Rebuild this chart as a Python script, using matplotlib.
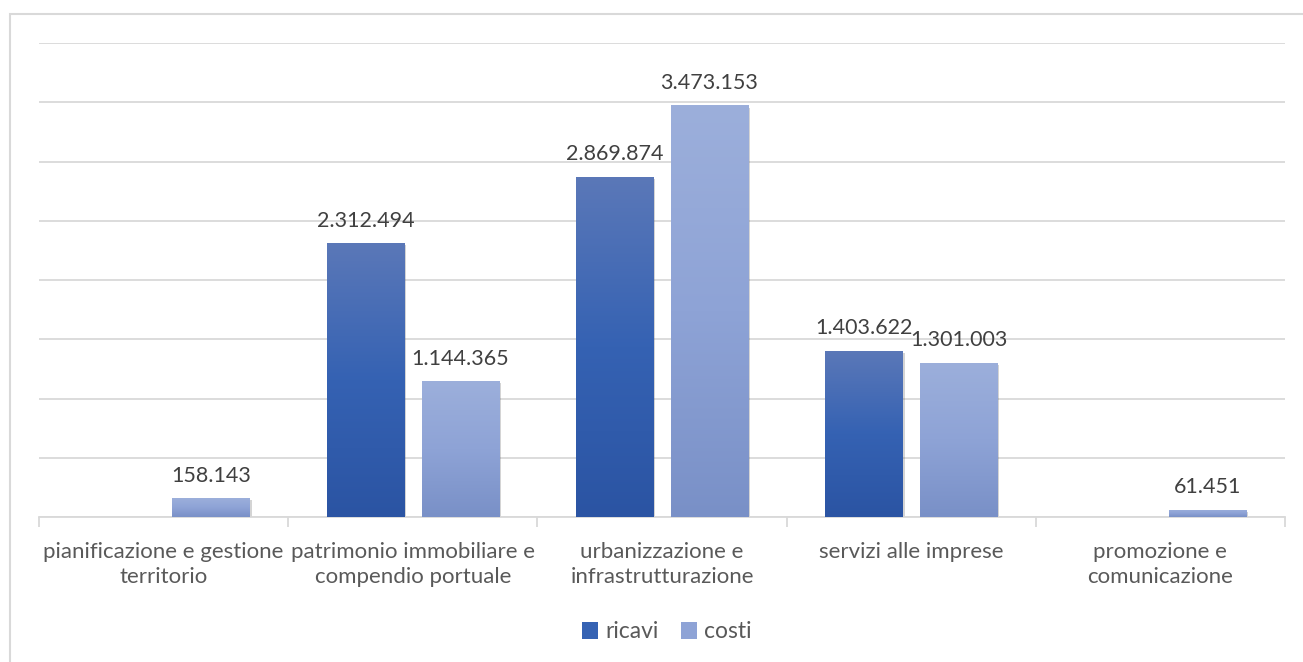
import numpy as np
import matplotlib
matplotlib.use("Agg")
import matplotlib.pyplot as plt
from matplotlib.patches import Rectangle, Patch
from matplotlib.colors import LinearSegmentedColormap
import matplotlib.patheffects as pe

categories = ["pianificazione e gestione\nterritorio",
              "patrimonio immobiliare e\ncompendio portuale",
              "urbanizzazione e\ninfrastrutturazione",
              "servizi alle imprese",
              "promozione e\ncomunicazione"]
ricavi = [0, 2312494, 2869874, 1403622, 0]
costi = [158143, 1144365, 3473153, 1301003, 61451]
series_names = ["ricavi", "costi"]

plt.rcParams['font.family'] = ['Lato', 'DejaVu Sans']

W, H = 1303, 662
fig = plt.figure(figsize=(W/100, H/100), dpi=100)
fig.patch.set_facecolor("white")

# outer frame (only top-left visible)
fig.add_artist(Rectangle((10/W, -0.1), 1.2, 1.1 - 14/H, transform=fig.transFigure,
                         fill=False, edgecolor="#d9d9d9", linewidth=1.5))

ax = fig.add_axes([39/W, 1-517/H, (1285-39)/W, (517-43)/H])
ax.set_xlim(-0.5, len(categories)-0.5)
ax.set_ylim(0, 4000000)

ax.set_yticks(np.arange(0, 4000001, 500000))
ax.yaxis.grid(True, color="#d9d9d9", linewidth=1.3)
ax.set_axisbelow(True)
ax.tick_params(axis='y', left=False, labelleft=False)
for s in ["top", "right", "left"]:
    ax.spines[s].set_visible(False)
ax.spines["bottom"].set_color("#d9d9d9")
ax.spines["bottom"].set_linewidth(1.3)

x = np.arange(len(categories))
ax.set_xticks(x)
ax.set_xticklabels(categories, fontsize=16, color="#595959", linespacing=1.33)
ax.tick_params(axis='x', length=0, pad=18)
ax.set_xticks(np.arange(-0.5, len(categories)), minor=True)
ax.tick_params(axis='x', which='minor', length=7, color="#d9d9d9", width=1.3)

off = 0.19
bw = 0.31

cm_r = LinearSegmentedColormap.from_list("r", ["#2b54a3", "#3562b3", "#5b78b8"])
cm_c = LinearSegmentedColormap.from_list("c", ["#7990c7", "#8ea3d6", "#9cafdb"])
grad = np.linspace(1, 0, 256).reshape(-1, 1)  # row 0 (top) = 1 -> top colour

def draw(vals, xs, cmap):
    for xi, v in zip(xs, vals):
        if v <= 0:
            continue
        r = Rectangle((xi - bw/2, 0), bw, v, facecolor=cmap(0.5), edgecolor="none", zorder=2,
                      path_effects=[pe.SimplePatchShadow(offset=(1.5, -1.5), alpha=0.25, shadow_rgbFace="#555555"), pe.Normal()])
        ax.add_patch(r)
        im = ax.imshow(grad, cmap=cmap, aspect='auto', extent=(xi - bw/2, xi + bw/2, 0, v),
                       origin='upper', zorder=3, interpolation='bilinear', vmin=0, vmax=1)
        im.set_clip_path(r)
        ax.text(xi, v + 105000, f"{v:,}".replace(",", "."), ha="center", va="bottom",
                fontsize=15.5, color="#404040", zorder=4)

draw(ricavi, x - off, cm_r)
draw(costi, x + off, cm_c)
ax.set_xlim(-0.5, len(categories)-0.5)
ax.set_ylim(0, 4000000)

handles = [Patch(facecolor=cm_r(0.5), label=series_names[0]),
           Patch(facecolor=cm_c(0.5), label=series_names[1])]
fig.legend(handles=handles, loc="center", bbox_to_anchor=(667/W, 1-632/H), ncol=2, frameon=False,
           fontsize=16.5, labelcolor="#595959", handlelength=0.7, handleheight=0.7,
           handletextpad=0.3, columnspacing=1.0)

fig.savefig("out.png", dpi=100, facecolor="white")
